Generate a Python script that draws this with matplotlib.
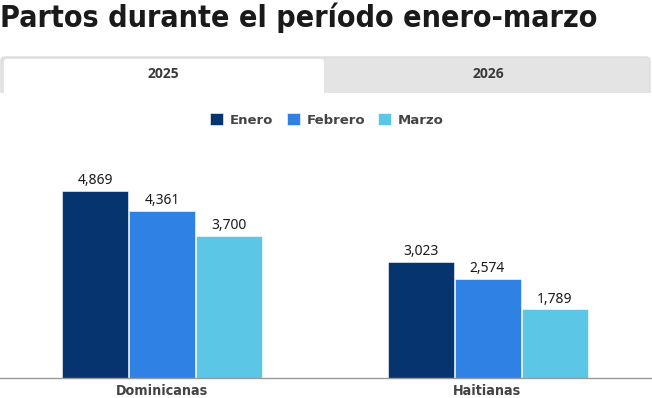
import matplotlib.pyplot as plt
import numpy as np
from matplotlib.patches import FancyBboxPatch, Rectangle

categories = ["Dominicanas", "Haitianas"]
series = ["Enero", "Febrero", "Marzo"]
enero = [4869, 3023]
febrero = [4361, 2574]
marzo = [3700, 1789]
tabs = ["2025", "2026"]

colors = ["#06346f", "#2f82e4", "#5bc6e6"]
W, H = 652, 398

fig = plt.figure(figsize=(W / 100, H / 100), dpi=100)

# background layer in pixel coords
bg = fig.add_axes([0, 0, 1, 1])
bg.set_xlim(0, W)
bg.set_ylim(H, 0)
bg.axis("off")

title = bg.text(0, 27, "Partos durante el período enero-marzo", fontsize=25,
                fontweight="heavy", fontstretch="condensed", family="DejaVu Sans",
                color="#1a1a1a", va="baseline", ha="left")

# tab bar
bg.add_patch(FancyBboxPatch((1, 57), 649, 40, boxstyle="round,pad=0,rounding_size=4",
                            facecolor="#e4e4e4", edgecolor="#dcdcdc", lw=1))
bg.add_patch(FancyBboxPatch((4, 59), 320, 38, boxstyle="round,pad=0,rounding_size=3",
                            facecolor="white", edgecolor="none"))
bg.add_patch(Rectangle((0, 93), W, 10, facecolor="white", edgecolor="none"))
for t, x in zip(tabs, [163, 488]):
    bg.text(x, 74, t, fontsize=10, fontweight="bold", color="#3a3a3a",
            ha="center", va="center", family="Open Sans")

# bars
ax = fig.add_axes([0, 20 / H, 1, 238 / H])
scale = 325.5
ax.set_xlim(-162 / scale, (W - 162) / scale)
ax.set_ylim(0, 238 / (187 / 4869))
x = np.arange(len(categories))
off = 67 / scale
bw = 66 / scale
for i, (name, vals) in enumerate(zip(series, [enero, febrero, marzo])):
    bars = ax.bar(x + (i - 1) * off, vals, bw, color=colors[i], label=name,
                  edgecolor="white", linewidth=0.4)
    ax.bar_label(bars, labels=[f"{v:,}" for v in vals], padding=2,
                 fontsize=10, color="#1a1a1a", family="Noto Sans")

for s in ["top", "right", "left"]:
    ax.spines[s].set_visible(False)
ax.spines["bottom"].set_color("#999999")
ax.spines["bottom"].set_linewidth(1)
ax.set_yticks([])
ax.set_xticks(x)
ax.set_xticklabels(categories, fontsize=10.3, fontweight="bold", color="#444444",
                   family="DejaVu Sans", fontstretch="condensed")
ax.tick_params(axis="x", length=0, pad=4.5)
ax.patch.set_alpha(0)

leg = fig.legend(loc="center", bbox_to_anchor=(327 / W, 1 - 120 / H), ncol=3,
                 frameon=False, handlelength=1.0, handleheight=1.0,
                 handletextpad=0.5, columnspacing=1.0,
                 prop={"family": "DejaVu Sans", "weight": "bold", "size": 9.5})
for t in leg.get_texts():
    t.set_color("#444444")

# fit title to the reference width
fig.canvas.draw()
w = title.get_window_extent().width
title.set_fontsize(25 * 600 / w)

fig.savefig("out.png", dpi=100)
